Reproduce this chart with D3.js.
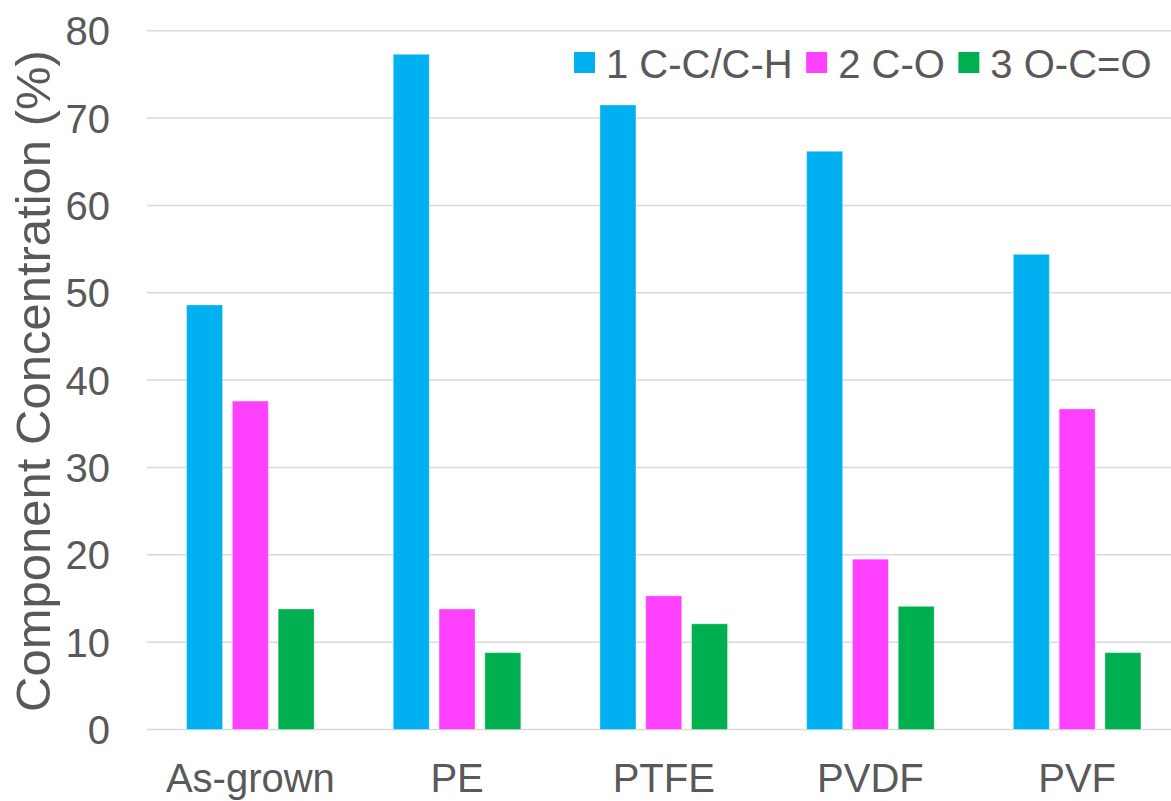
<!DOCTYPE html>
<html>
<head>
<meta charset="utf-8">
<script src="https://cdn.jsdelivr.net/npm/d3@7/dist/d3.min.js"></script>
<style>
  html, body { margin: 0; padding: 0; background: #ffffff; }
  svg { display: block; }
  text { font-family: "Liberation Sans", Arial, sans-serif; fill: #595959; }
</style>
</head>
<body>
<svg id="chart" width="1171" height="801"></svg>
<script>
// Samples and the three carbon bonding components
const categories = ["As-grown", "PE", "PTFE", "PVDF", "PVF"];
const seriesNames = ["1 C-C/C-H", "2 C-O", "3 O-C=O"];
const seriesColors = ["#00B0F0", "#FF40FF", "#00B050"];

// Component concentration (%) for each sample
const ccch = [48.6, 77.3, 71.5, 66.2, 54.4];
const co   = [37.6, 13.8, 15.3, 19.5, 36.7];
const oco  = [13.8, 8.8, 12.1, 14.1, 8.8];

const yTicks = [0, 10, 20, 30, 40, 50, 60, 70, 80];
const yTitle = "Component Concentration (%)";

const seriesValues = [ccch, co, oco];
const rows = categories.map((c, i) => ({
  category: c,
  values: seriesNames.map((s, k) => ({ series: s, k, value: seriesValues[k][i] }))
}));

const width = 1171, height = 801;
const plot = { left: 147, right: 1180.5, top: 30.7, bottom: 729.5 };

const svg = d3.select("#chart");

const x = d3.scaleBand()
  .domain(categories)
  .range([plot.left, plot.right])
  .paddingInner(0)
  .paddingOuter(0);

const x1 = d3.scaleBand()
  .domain(seriesNames)
  .range([0, x.bandwidth()])
  .paddingInner(0.214)
  .paddingOuter(0.864);

const y = d3.scaleLinear()
  .domain([0, 80])
  .range([plot.bottom, plot.top]);

// Horizontal gridlines
svg.append("g")
  .selectAll("line")
  .data(yTicks)
  .join("line")
  .attr("x1", plot.left)
  .attr("x2", width)
  .attr("y1", d => y(d))
  .attr("y2", d => y(d))
  .attr("stroke", "#d9d9d9")
  .attr("stroke-width", 1.5);

// Y tick labels
const yAxis = d3.axisLeft(y).tickValues(yTicks).tickSize(0).tickPadding(0);
const yG = svg.append("g")
  .attr("transform", `translate(110,0)`)
  .call(yAxis);
yG.select(".domain").remove();
yG.selectAll("text")
  .attr("x", 0)
  .attr("dy", "0.35em")
  .style("font-size", "40px")
  .style("font-family", "'Liberation Sans', Arial, sans-serif")
  .attr("fill", "#595959");

// Bars
const groups = svg.append("g")
  .selectAll("g")
  .data(rows)
  .join("g")
  .attr("transform", d => `translate(${x(d.category)},0)`);

groups.selectAll("rect")
  .data(d => d.values)
  .join("rect")
  .attr("x", d => x1(d.series))
  .attr("width", x1.bandwidth())
  .attr("y", d => y(d.value))
  .attr("height", d => y(0) - y(d.value))
  .attr("fill", d => seriesColors[d.k])
  .attr("stroke", "rgba(255,255,255,0.35)")
  .attr("stroke-width", 1);

// X category labels
const xAxis = d3.axisBottom(x).tickSize(0).tickPadding(0);
const xG = svg.append("g")
  .attr("transform", `translate(0,${plot.bottom})`)
  .call(xAxis);
xG.select(".domain").remove();
xG.selectAll("text")
  .attr("y", 62)
  .attr("dy", 0)
  .style("font-size", "40px")
  .style("font-family", "'Liberation Sans', Arial, sans-serif")
  .attr("fill", "#595959");

// Y axis title
svg.append("text")
  .attr("transform", "translate(50,381) rotate(-90)")
  .attr("text-anchor", "middle")
  .style("font-size", "49px")
  .text(yTitle);

// Legend
const legend = svg.append("g").attr("transform", "translate(574,0)");
let lx = 0;
seriesNames.forEach((name, k) => {
  const item = legend.append("g").attr("transform", `translate(${lx},0)`);
  item.append("rect")
    .attr("x", 0).attr("y", 52)
    .attr("width", 21).attr("height", 21)
    .attr("fill", seriesColors[k]);
  const t = item.append("text")
    .attr("x", 32).attr("y", 78)
    .style("font-size", "40px")
    .text(name);
  lx += 32 + t.node().getComputedTextLength() + 13.5;
});
</script>
</body>
</html>
